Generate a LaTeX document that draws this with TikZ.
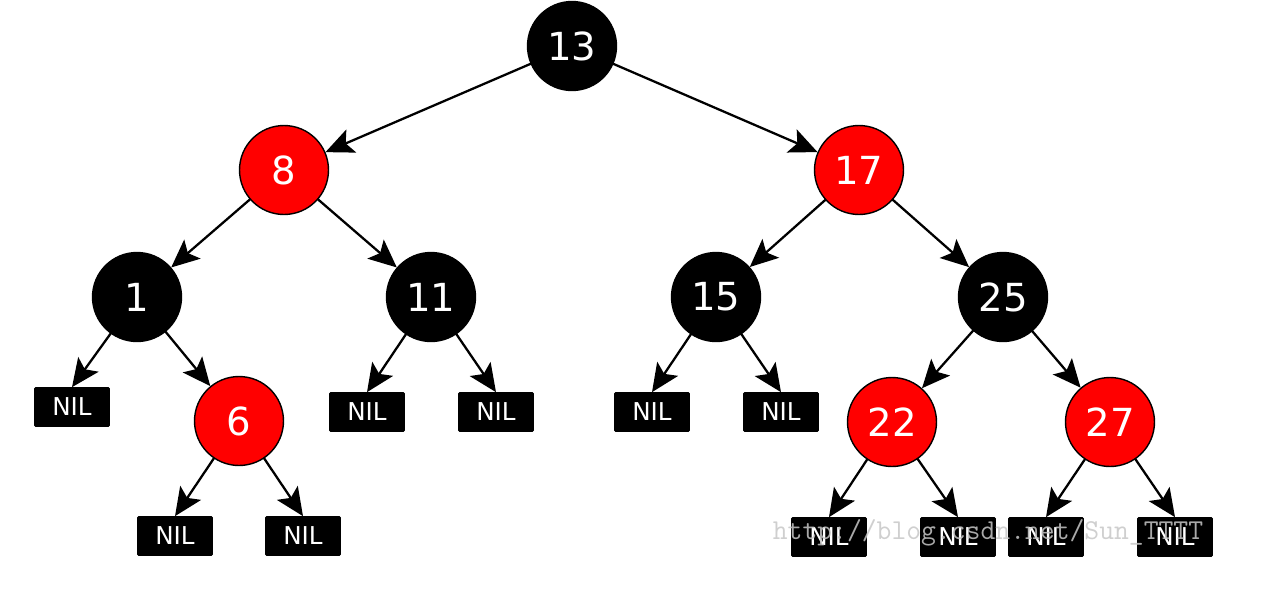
\documentclass[tikz,border=0pt]{standalone}
\usepackage{fontspec}
\setmainfont{DejaVu Sans}
\usepackage{xcolor}
\usepackage{tikz}
\usetikzlibrary{arrows.meta}
\definecolor{rbred}{RGB}{255,0,0}

\begin{document}
\begin{tikzpicture}[x=0.02cm, y=-0.02cm, every node/.style={font=\fontsize{22}{24}\selectfont, text=white}, blk/.style={circle, draw=black, line width=0.8pt, fill=black, minimum size=1.78cm, inner sep=0pt}, rd/.style={blk, fill=rbred}, nil/.style={draw=black, fill=black, rounded corners=0.6pt, minimum width=1.5cm, minimum height=0.78cm, inner sep=0pt, font=\fontsize{14}{16}\selectfont}, arr/.style={-{Stealth[length=5.6mm, width=5mm, inset=1.2mm]}, line width=1.3pt, shorten <=-0.5pt}]
\useasboundingbox (0,0) rectangle (1275,589);
\node[blk] (n13) at (572,46) {13};
\node[rd] (n8) at (284,170) {8};
\node[rd] (n17) at (859,170) {17};
\node[blk] (n1) at (137,297) {1};
\node[blk] (n11) at (431,297) {11};
\node[blk] (n15) at (716,297) {15};
\node[blk] (n25) at (1003,297) {25};
\node[rd] (n6) at (239,421) {6};
\node[rd] (n22) at (892,422) {22};
\node[rd] (n27) at (1110,422) {27};
\node[nil] (nil1l) at (72,407) {NIL};
\node[nil] (nil11l) at (367,412) {NIL};
\node[nil] (nil11r) at (496,412) {NIL};
\node[nil] (nil15l) at (652,412) {NIL};
\node[nil] (nil15r) at (781,412) {NIL};
\node[nil] (nil6l) at (175,536) {NIL};
\node[nil] (nil6r) at (303,536) {NIL};
\node[nil] (nil22l) at (829,537) {NIL};
\node[nil] (nil22r) at (958,537) {NIL};
\node[nil] (nil27l) at (1046,537) {NIL};
\node[nil] (nil27r) at (1175,537) {NIL};
\draw[arr] (n13) -- (n8); \draw[arr] (n13) -- (n17);
\draw[arr] (n8) -- (n1); \draw[arr] (n8) -- (n11); \draw[arr] (n17) -- (n15); \draw[arr] (n17) -- (n25);
\draw[arr] (n1) -- (nil1l.north); \draw[arr] (n1) -- (n6); \draw[arr] (n11) -- (nil11l.north); \draw[arr] (n11) -- (nil11r.north);
\draw[arr] (n15) -- (nil15l.north); \draw[arr] (n15) -- (nil15r.north); \draw[arr] (n25) -- (n22); \draw[arr] (n25) -- (n27);
\draw[arr] (n6) -- (nil6l.north); \draw[arr] (n6) -- (nil6r.north); \draw[arr] (n22) -- (nil22l.north); \draw[arr] (n22) -- (nil22r.north);
\draw[arr] (n27) -- (nil27l.north); \draw[arr] (n27) -- (nil27r.north);
% watermark
\node[text=black!22, opacity=0.85, font=\ttfamily\fontsize{16.4}{18}\selectfont, inner sep=0pt] (wm) at (988,533) {http://blog.csdn.net/Sun\_TTTT};
\end{tikzpicture}
\end{document}
